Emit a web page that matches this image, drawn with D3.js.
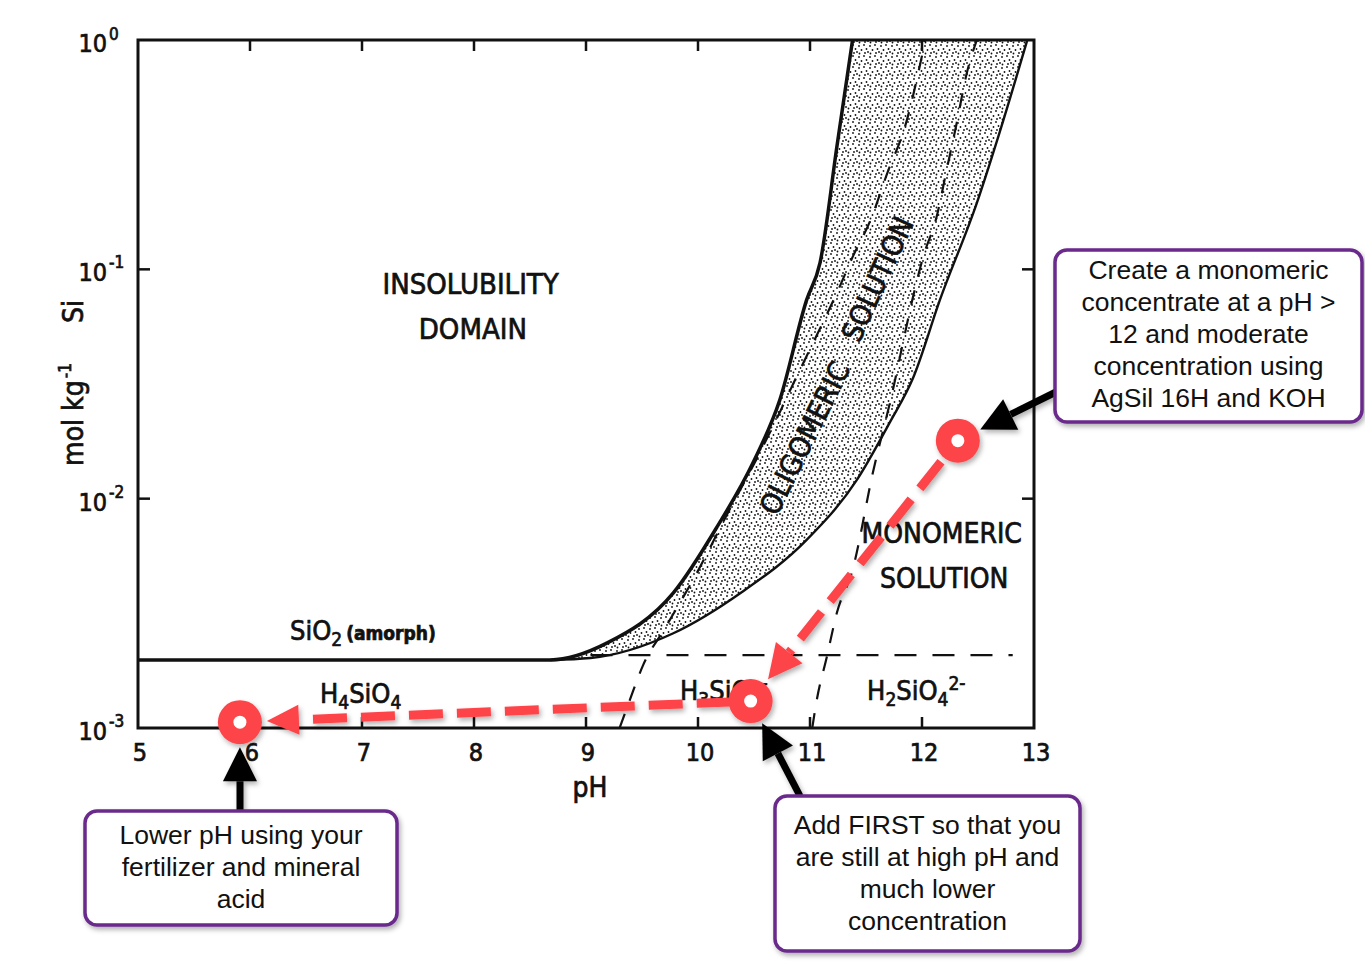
<!DOCTYPE html>
<html>
<head>
<meta charset="utf-8">
<script src="https://cdn.jsdelivr.net/npm/d3@7"></script>
<style>
  body { margin: 0; background: #fff; }
  svg { display: block; }
  .scan { font-family: "DejaVu Sans Condensed", "DejaVu Sans", sans-serif; font-stretch: condensed;
          fill: #111; stroke: #111; stroke-width: 0.7px; }
  .note { font-family: "Liberation Sans", Arial, sans-serif; fill: #111; }
</style>
</head>
<body>
<svg id="chart" width="1365" height="973"></svg>
<script>
// axis ticks
const phTicks = [5, 6, 7, 8, 9, 10, 11, 12, 13];
const concTicks = [1e-3, 1e-2, 1e-1, 1];
const concExp = ["-3", "-2", "-1", "0"];

// amorphous SiO2 solubility, upper edge of the oligomeric band (mol/kg)
const amorphPH = [5, 8.2, 8.68, 9.19, 9.78, 10.17, 10.49, 10.73, 10.97, 11.09, 11.24, 11.38];
const amorphSi = [1.98e-3, 1.98e-3, 1.98e-3, 2.35e-3, 3.88e-3, 7.53e-3, 0.0143, 0.0269, 0.0736, 0.107, 0.342, 1.0];

// limit of monomeric solution, lower edge of the band
const monoPH = [8.68, 9.04, 9.78, 10.38, 10.97, 11.42, 11.71, 11.92, 12.16, 12.49, 12.70, 12.94];
const monoSi = [1.98e-3, 2.02e-3, 2.59e-3, 3.88e-3, 6.61e-3, 0.0121, 0.0214, 0.0336, 0.0736, 0.195, 0.406, 1.0];

// dashed species boundaries
const pk1PH = [9.30, 9.39, 9.51, 9.71, 9.98, 10.28, 10.52, 10.71, 10.88, 11.07, 11.24, 11.38, 11.54, 11.70, 11.84, 12.03];
const pk1Si = [1e-3, 1.32e-3, 1.88e-3, 2.75e-3, 4.65e-3, 8.93e-3, 0.0148, 0.0227, 0.034, 0.0528, 0.0789, 0.113, 0.164, 0.271, 0.406, 1.0];
const pk2PH = [11.02, 11.06, 11.15, 11.24, 11.38, 11.56, 11.74, 11.83, 11.92, 12.01, 12.13, 12.22, 12.31, 12.40, 12.49];
const pk2Si = [1e-3, 1.32e-3, 2.04e-3, 3.18e-3, 4.89e-3, 0.0129, 0.0298, 0.0478, 0.0759, 0.113, 0.169, 0.271, 0.435, 0.718, 1.0];
const saturPH = [9.04, 12.81];
const saturSi = [2.08e-3, 2.08e-3];

// the red route: concentrate -> first addition -> acidified
const routePH = [12.32, 10.47, 5.91];
const routeSi = [0.0179, 1.31e-3, 1.06e-3];

const notes = [
  ["Create a monomeric", "concentrate at a pH >", "12 and moderate", "concentration using", "AgSil 16H and KOH"],
  ["Lower pH using your", "fertilizer and mineral", "acid"],
  ["Add FIRST so that you", "are still at high pH and", "much lower", "concentration"]
];

const RED = "#fd4449";
const PURPLE = "#6a2a8c";

const svg = d3.select("#chart");
const x = d3.scaleLinear().domain([5, 13]).range([138, 1034]);
const y = d3.scaleLog().domain([1e-3, 1]).range([728, 40]);

const pts = (ph, c) => ph.map((p, i) => [x(p), y(c[i])]);
const line = d3.line().curve(d3.curveMonotoneX);

const defs = svg.append("defs");
const pat = defs.append("pattern").attr("id", "stipple")
  .attr("patternUnits", "userSpaceOnUse").attr("width", 11).attr("height", 11);
[[1, 2], [6, 1], [3.5, 6], [8.5, 5], [1.5, 9.5], [7, 9], [10, 8]].forEach(p =>
  pat.append("circle").attr("cx", p[0]).attr("cy", p[1]).attr("r", 0.9).attr("fill", "#111"));

const sh = defs.append("filter").attr("id", "shadow")
  .attr("x", "-10%").attr("y", "-10%").attr("width", "130%").attr("height", "130%");
sh.append("feDropShadow").attr("dx", 2).attr("dy", 3).attr("stdDeviation", 2.5)
  .attr("flood-color", "#000").attr("flood-opacity", 0.3);

defs.append("clipPath").attr("id", "plot").append("rect")
  .attr("x", 138).attr("y", 40).attr("width", 896).attr("height", 688);

const plot = svg.append("g").attr("clip-path", "url(#plot)");

// oligomeric band
const upper = pts(amorphPH.slice(2), amorphSi.slice(2));
const lower = pts(monoPH, monoSi).reverse();
const bandD = line(upper) + "L" + line(lower).slice(1) + "Z";
plot.append("path").attr("d", bandD).attr("fill", "url(#stipple)");

// dashed boundaries
[[pk1PH, pk1Si], [pk2PH, pk2Si]].forEach(([p, c]) => {
  plot.append("path").attr("d", line(pts(p, c)))
    .attr("fill", "none").attr("stroke", "#111").attr("stroke-width", 2.2)
    .attr("stroke-dasharray", "15,14");
});
plot.append("path").attr("d", d3.line()(pts(saturPH, saturSi)))
  .attr("fill", "none").attr("stroke", "#111").attr("stroke-width", 2.2)
  .attr("stroke-dasharray", "22,16");

// solid curves
plot.append("path").attr("d", line(pts(amorphPH, amorphSi)))
  .attr("fill", "none").attr("stroke", "#111").attr("stroke-width", 3.5);
plot.append("path").attr("d", line(pts(monoPH, monoSi)))
  .attr("fill", "none").attr("stroke", "#111").attr("stroke-width", 2.4);

// frame
svg.append("rect").attr("x", 138).attr("y", 40).attr("width", 896).attr("height", 688)
  .attr("fill", "none").attr("stroke", "#111").attr("stroke-width", 3);

// ticks
const inner = phTicks.slice(1, -1);
svg.append("g").selectAll("line").data(inner).join("line")
  .attr("x1", d => x(d)).attr("x2", d => x(d)).attr("y1", 728).attr("y2", 717)
  .attr("stroke", "#111").attr("stroke-width", 2.5);
svg.append("g").selectAll("line").data(inner).join("line")
  .attr("x1", d => x(d)).attr("x2", d => x(d)).attr("y1", 40).attr("y2", 51)
  .attr("stroke", "#111").attr("stroke-width", 2.5);
const midC = concTicks.slice(1, -1);
svg.append("g").selectAll("line").data(midC).join("line")
  .attr("x1", 138).attr("x2", 150).attr("y1", d => y(d)).attr("y2", d => y(d))
  .attr("stroke", "#111").attr("stroke-width", 2.5);
svg.append("g").selectAll("line").data(midC).join("line")
  .attr("x1", 1034).attr("x2", 1022).attr("y1", d => y(d)).attr("y2", d => y(d))
  .attr("stroke", "#111").attr("stroke-width", 2.5);

// tick labels
svg.append("g").selectAll("text").data(phTicks).join("text")
  .attr("class", "scan").attr("x", d => x(d) + 2).attr("y", 761)
  .attr("text-anchor", "middle").attr("font-size", 25).text(d => d);
const yl = svg.append("g").selectAll("g").data(concTicks).join("g");
yl.append("text").attr("class", "scan").attr("x", 107).attr("y", d => y(d) + 12)
  .attr("text-anchor", "end").attr("font-size", 25).text("10");
yl.append("text").attr("class", "scan").attr("x", 109).attr("y", (d, i) => y(d) + (i === 3 ? 0 : -1))
  .attr("font-size", 17).text((d, i) => concExp[i]);

// axis titles
svg.append("text").attr("class", "scan").attr("x", 590).attr("y", 797)
  .attr("text-anchor", "middle").attr("font-size", 28).text("pH");
const yt = svg.append("text").attr("class", "scan")
  .attr("transform", "translate(83,383) rotate(-90)").attr("text-anchor", "middle").attr("font-size", 28);
yt.append("tspan").text("mol kg");
yt.append("tspan").attr("dy", -12).attr("dx", 2).attr("font-size", 17).text("-1");
yt.append("tspan").attr("dy", 12).attr("dx", 40).text("Si");

// region labels
const lab = (px, py, txt, size, anchor) => svg.append("text").attr("class", "scan")
  .attr("x", px).attr("y", py).attr("font-size", size).attr("text-anchor", anchor || "start").text(txt);
lab(x(7.97), y(0.0782), "INSOLUBILITY", 29, "middle");
lab(x(7.99), y(0.0497), "DOMAIN", 29, "middle");
lab(x(11.46), y(6.41e-3), "MONOMERIC", 28);
lab(x(11.625), y(4.08e-3), "SOLUTION", 28);

const chem = (px, py, parts) => {
  const t = svg.append("text").attr("class", "scan").attr("x", px).attr("y", py).attr("font-size", 27);
  parts.forEach(([s, kind]) => {
    const ts = t.append("tspan").text(s);
    if (kind === "sub") ts.attr("font-size", 19).attr("dy", 6);
    if (kind === "back") ts.attr("dy", -6);
    if (kind === "sup") ts.attr("font-size", 19).attr("dy", -16);
    if (kind === "small") ts.attr("font-size", 19).attr("font-weight", "bold").attr("dy", -6).attr("dx", 4);
  });
};
chem(x(6.357), y(2.42e-3), [["SiO"], ["2", "sub"], ["(amorph)", "small"]]);
chem(x(6.625), y(1.29e-3), [["H"], ["4", "sub"], ["SiO", "back"], ["4", "sub"]]);
chem(x(9.84), y(1.32e-3), [["H"], ["3", "sub"], ["SiO", "back"], ["4", "sub"], ["-", "sup"]]);
chem(x(11.51), y(1.32e-3), [["H"], ["2", "sub"], ["SiO", "back"], ["4", "sub"], ["2-", "sup"]]);

svg.append("text").attr("class", "scan").attr("font-size", 29).attr("text-anchor", "middle")
  .attr("dominant-baseline", "middle")
  .attr("transform", `translate(${x(10.97)},${y(0.0182)}) rotate(-63.5)`).text("OLIGOMERIC");
svg.append("text").attr("class", "scan").attr("font-size", 29).attr("text-anchor", "middle")
  .attr("dominant-baseline", "middle")
  .attr("transform", `translate(${x(11.62)},${y(0.09)}) rotate(-65.5)`).text("SOLUTION");

// arrows
function arrow(g, from, to, opt) {
  const dx = to[0] - from[0], dy = to[1] - from[1];
  const L = Math.hypot(dx, dy), ux = dx / L, uy = dy / L;
  const bx = to[0] - ux * opt.len, by = to[1] - uy * opt.len;
  g.append("line").attr("x1", from[0]).attr("y1", from[1]).attr("x2", bx).attr("y2", by)
    .attr("stroke", opt.color).attr("stroke-width", opt.width)
    .attr("stroke-dasharray", opt.dash || null);
  g.append("path")
    .attr("d", `M${to[0]},${to[1]}L${bx - uy * opt.half},${by + ux * opt.half}L${bx + uy * opt.half},${by - ux * opt.half}Z`)
    .attr("fill", opt.color);
}
const toward = (a, b, dist) => {
  const L = Math.hypot(b[0] - a[0], b[1] - a[1]);
  return [a[0] + (b[0] - a[0]) / L * dist, a[1] + (b[1] - a[1]) / L * dist];
};

const route = pts(routePH, routeSi);
const redG = svg.append("g").attr("filter", "url(#shadow)");
arrow(redG, toward(route[0], route[1], 27), toward(route[1], route[0], 28),
  { len: 34, half: 17, width: 9, color: RED, dash: "34,14" });
arrow(redG, toward(route[1], route[2], 20), toward(route[2], route[1], 27),
  { len: 32, half: 15, width: 9, color: RED, dash: "34,14" });
redG.selectAll("circle.ring").data(route).join("circle")
  .attr("cx", d => d[0]).attr("cy", d => d[1]).attr("r", 22).attr("fill", RED);
svg.selectAll("circle.hole").data(route).join("circle")
  .attr("cx", d => d[0]).attr("cy", d => d[1]).attr("r", 6.5).attr("fill", "#fff");

// annotation boxes
const boxes = [
  { x: 1055, y: 250, w: 307, h: 172, top: 272, tail: [1056, 392], target: 0 },
  { x: 85, y: 811, w: 312, h: 114, top: 837, tail: [240, 811], target: 2 },
  { x: 775, y: 796, w: 305, h: 155, top: 827, tail: [800, 796], target: 1 }
];
const blackG = svg.append("g").attr("filter", "url(#shadow)");
boxes.forEach(b => {
  const c = route[b.target];
  arrow(blackG, b.tail, toward(c, b.tail, 25), { len: 34, half: 17, width: 7, color: "#000" });
});
boxes.forEach((b, i) => {
  svg.append("rect").attr("x", b.x).attr("y", b.y).attr("width", b.w).attr("height", b.h)
    .attr("rx", 12).attr("fill", "#fff").attr("stroke", PURPLE).attr("stroke-width", 3.5)
    .attr("filter", "url(#shadow)");
  svg.append("g").selectAll("text").data(notes[i]).join("text").attr("class", "note")
    .attr("x", b.x + b.w / 2).attr("y", (d, j) => b.top + j * 32)
    .attr("dominant-baseline", "middle").attr("text-anchor", "middle")
    .attr("font-size", 26.5).text(d => d);
});
</script>
</body>
</html>
